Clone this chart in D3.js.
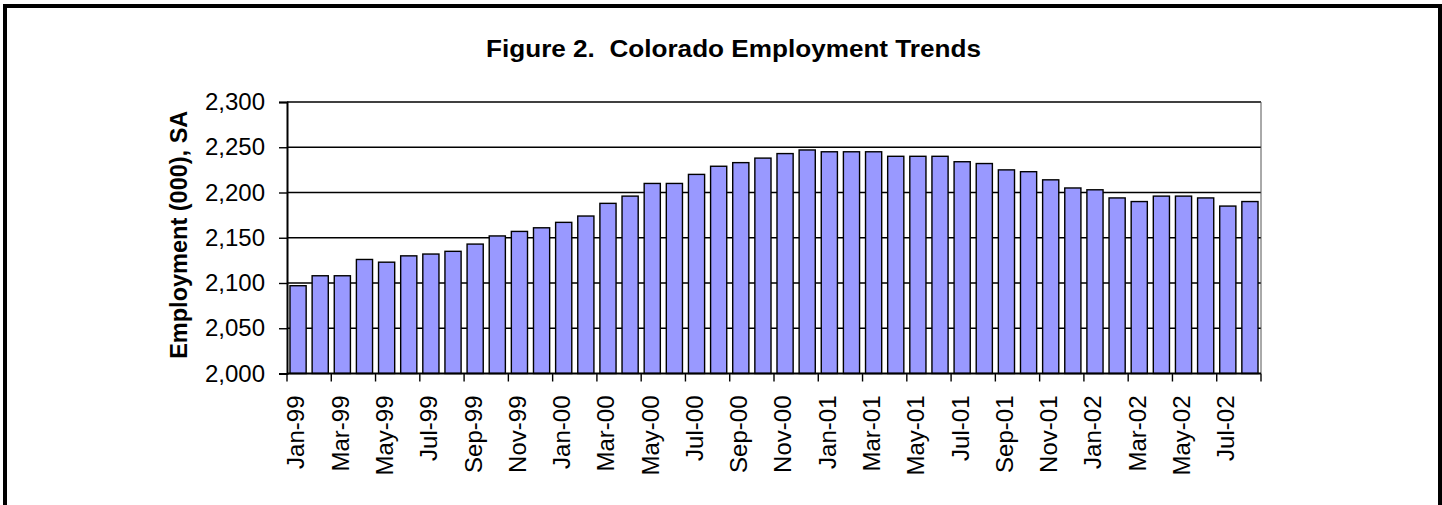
<!DOCTYPE html>
<html>
<head>
<meta charset="utf-8">
<script src="https://cdn.jsdelivr.net/npm/d3@7"></script>
<style>
  html, body { margin: 0; padding: 0; background: #fff; }
  svg { display: block; }
  text { font-family: "Liberation Sans", Arial, sans-serif; fill: #000; }
</style>
</head>
<body>
<svg id="chart" width="1442" height="505"></svg>
<script>
// Monthly Colorado employment, seasonally adjusted (thousands)
const months = [
  "Jan-99","Feb-99","Mar-99","Apr-99","May-99","Jun-99","Jul-99","Aug-99","Sep-99","Oct-99","Nov-99","Dec-99",
  "Jan-00","Feb-00","Mar-00","Apr-00","May-00","Jun-00","Jul-00","Aug-00","Sep-00","Oct-00","Nov-00","Dec-00",
  "Jan-01","Feb-01","Mar-01","Apr-01","May-01","Jun-01","Jul-01","Aug-01","Sep-01","Oct-01","Nov-01","Dec-01",
  "Jan-02","Feb-02","Mar-02","Apr-02","May-02","Jun-02","Jul-02","Aug-02"
];
const employment = [
  2097, 2108, 2108, 2126, 2123, 2130, 2132, 2135, 2143, 2152, 2157, 2161,
  2167, 2174, 2188, 2196, 2210, 2210, 2220, 2229, 2233, 2238, 2243, 2247,
  2245, 2245, 2245, 2240, 2240, 2240, 2234, 2232, 2225, 2223, 2214, 2205,
  2203, 2194, 2190, 2196, 2196, 2194, 2185, 2190
];
const yTicks = [2000, 2050, 2100, 2150, 2200, 2250, 2300];
const titleText = "Figure 2.  Colorado Employment Trends";
const yTitle = "Employment (000), SA";

const svg = d3.select("#chart");
const plot = { left: 287, right: 1261, top: 102, bottom: 373.5 };

// outer frame
svg.append("rect")
  .attr("x", 5).attr("y", 6).attr("width", 1435).attr("height", 600)
  .attr("fill", "#fff").attr("stroke", "#000").attr("stroke-width", 4);

const x = d3.scaleBand()
  .domain(months)
  .range([plot.left, plot.right])
  .paddingInner(0.27)
  .paddingOuter(0.135);

const y = d3.scaleLinear()
  .domain([yTicks[0], yTicks[yTicks.length - 1]])
  .range([plot.bottom, plot.top]);

// horizontal gridlines
svg.append("g")
  .selectAll("line")
  .data(yTicks.slice(1))
  .join("line")
  .attr("x1", plot.left).attr("x2", plot.right)
  .attr("y1", d => y(d)).attr("y2", d => y(d))
  .attr("stroke", "#000").attr("stroke-width", 1.4);

// right edge of plot area
svg.append("line")
  .attr("x1", plot.right).attr("x2", plot.right)
  .attr("y1", plot.top).attr("y2", plot.bottom)
  .attr("stroke", "#555").attr("stroke-width", 1);

// bars
svg.append("g")
  .selectAll("rect")
  .data(months)
  .join("rect")
  .attr("x", d => x(d))
  .attr("y", (d, i) => y(employment[i]))
  .attr("width", x.bandwidth())
  .attr("height", (d, i) => y(yTicks[0]) - y(employment[i]))
  .attr("fill", "#9999ff")
  .attr("stroke", "#000")
  .attr("stroke-width", 1.4);

// y axis
const yAxis = d3.axisLeft(y)
  .tickValues(yTicks)
  .tickFormat(d3.format(","))
  .tickSize(8)
  .tickPadding(14);
const gy = svg.append("g")
  .attr("transform", `translate(${plot.left},0)`)
  .call(yAxis);
gy.select(".domain").attr("stroke", "#000").attr("stroke-width", 2);
gy.selectAll(".tick line").attr("stroke", "#000").attr("stroke-width", 1.4);
gy.selectAll(".tick text")
  .attr("font-size", 24)
  .attr("font-family", "Liberation Sans, Arial, sans-serif")
  .attr("fill", "#000");

// x axis: tick marks between every second category, labels on alternate months
const step = x.step();
const boundaries = d3.range(0, months.length + 1, 2).map(i => plot.left + i * step);
const gx = svg.append("g");
gx.append("line")
  .attr("x1", plot.left).attr("x2", plot.right)
  .attr("y1", plot.bottom).attr("y2", plot.bottom)
  .attr("stroke", "#000").attr("stroke-width", 2);
gx.selectAll("line.tick")
  .data(boundaries)
  .join("line")
  .attr("class", "tick")
  .attr("x1", d => d).attr("x2", d => d)
  .attr("y1", plot.bottom).attr("y2", plot.bottom + 8)
  .attr("stroke", "#000").attr("stroke-width", 1.4);
gx.selectAll("text")
  .data(months.filter((d, i) => i % 2 === 0))
  .join("text")
  .attr("transform", d => `translate(${x(d) + x.bandwidth() / 2 - 2},${plot.bottom + 22}) rotate(-90)`)
  .attr("text-anchor", "end")
  .attr("dy", "0.35em")
  .attr("font-size", 24)
  .text(d => d);

// y axis title
svg.append("text")
  .attr("transform", `translate(187,${(plot.top + plot.bottom) / 2 - 3}) rotate(-90)`)
  .attr("text-anchor", "middle")
  .attr("font-size", 23.5)
  .attr("font-weight", "bold")
  .text(yTitle);

// chart title
svg.append("text")
  .attr("x", 486).attr("y", 57)
  .attr("text-anchor", "start")
  .attr("font-size", 23)
  .attr("font-weight", "bold")
  .attr("textLength", 495)
  .attr("lengthAdjust", "spacingAndGlyphs")
  .style("white-space", "pre")
  .text(titleText);
</script>
</body>
</html>
